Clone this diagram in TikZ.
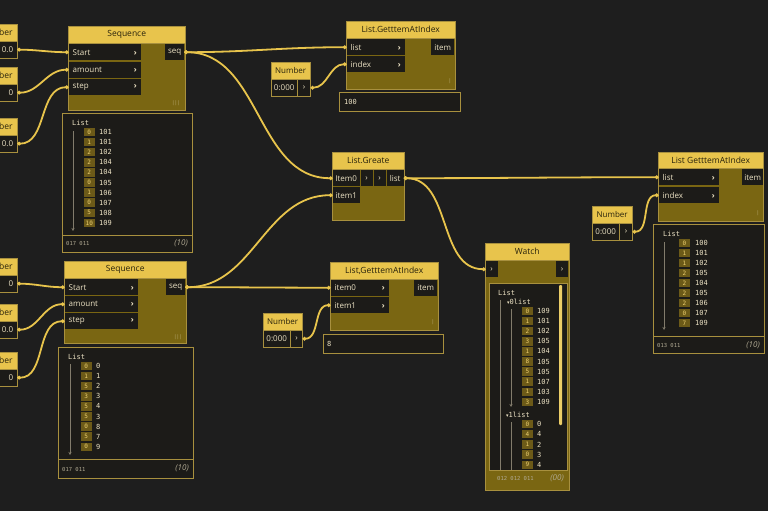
\documentclass[tikz,border=0pt]{standalone}
\usepackage{fontspec}
\setmainfont{Open Sans}
\newfontfamily\listfont{DejaVu Sans Mono}
\newfontfamily\symfont{DejaVu Sans}
\usetikzlibrary{positioning,arrows.meta}
\definecolor{canvas}{RGB}{30,30,30}
\definecolor{gold}{RGB}{232,196,76}
\definecolor{olive}{RGB}{122,102,18}
\definecolor{portbg}{RGB}{28,27,24}
\definecolor{rim}{RGB}{168,144,62}
\definecolor{cream}{RGB}{236,226,196}
\definecolor{ink}{RGB}{40,34,12}
\definecolor{idxbg}{RGB}{108,90,24}
\newcommand\hdrfont{\fontsize{8.5}{10}\selectfont}
\tikzset{
  hdr/.style={anchor=north west, fill=gold, draw=rim, text=ink, font=\hdrfont, inner sep=0pt, minimum height=17pt},
  body/.style={anchor=north west, fill=olive, draw=rim, inner sep=0pt},
  port/.style={anchor=north west, fill=portbg, text=cream, font=\footnotesize, inner sep=0pt, minimum height=16pt},
  inrow/.style={port, text width=#1, align=left},
  valbox/.style={anchor=north west, fill=portbg, draw=rim, text=cream, font=\footnotesize, inner sep=0pt, minimum height=17pt},
  listbox/.style={anchor=north west, fill=portbg, draw=rim, inner sep=0pt},
  idx/.style={anchor=east, fill=idxbg, text=gold!80!white, font=\listfont\fontsize{6}{6}\selectfont, inner sep=1pt, minimum width=11pt, minimum height=8.5pt},
  val/.style={anchor=west, text=cream, font=\listfont\scriptsize, inner sep=0pt},
  tree/.style={draw=cream!55!black, line width=0.6pt, -{Stealth[length=3pt,width=3pt]}},
  wire/.style={draw=gold, line width=1.8pt, {Circle[length=3.5pt]}-{Circle[length=3.5pt]}},
  lace/.style={text=cream!60!olive, font=\tiny, inner sep=0pt},
  foot/.style={anchor=west, text=cream!75!black, font=\listfont\fontsize{5.5}{6}\selectfont, inner sep=0pt},
  cnt/.style={anchor=east, text=cream!75!black, font=\itshape\footnotesize, inner sep=0pt},
}
\begin{document}
\begin{tikzpicture}[x=1pt,y=-1pt]
\useasboundingbox (0,0) rectangle (768,511);
\clip (0,0) rectangle (768,511);
\fill[canvas] (0,0) rectangle (768,511);

% number inputs on the left edge
\foreach \n/\y/\v in {n1/24/0.0, n2/67/0, n3/118/0.0, n4/258/0, n5/304/0.0, n6/352/0} {
  \node[hdr, minimum width=42pt] (\n) at (-25,\y) {Number};
  \node[valbox, minimum width=42pt, text width=34pt, align=right] (\n-val) at (-25,\y+17) {\v};
}

% first sequence
\node[body, minimum width=117pt, minimum height=67pt] (seqA-body) at (68,43) {};
\node[hdr, minimum width=117pt] (seqA) at (68,26) {Sequence};
\node[inrow=72pt] (seqA-start) at (68.5,44) {\hspace*{4pt}Start\hfill\textbf{›}\hspace*{4pt}};
\node[inrow=72pt] (seqA-amount) at (68.5,61.5) {\hspace*{4pt}amount\hfill\textbf{›}\hspace*{4pt}};
\node[inrow=72pt] (seqA-step) at (68.5,79) {\hspace*{4pt}step\hfill\textbf{›}\hspace*{4pt}};
\node[port, minimum width=19pt] (seqA-out) at (165,44) {seq};
\node[lace] (seqA-lace) at (176,103) {|||};
\node[listbox, minimum width=130pt, minimum height=139pt] (lA) at (62,113) {};
\draw[rim] (62,235) -- (192,235);
\node[val] (lA-title) at (72,123) {List};
\draw[tree] (73,131) -- (73,231);
\foreach \i/\v [count=\k from 0] in {0/101,1/101,2/102,2/104,2/104,0/105,1/106,0/107,5/108,10/109} {
  \node[idx] (lA-i\k) at (95,132+10.1*\k) {\i};
  \node[val] (lA-v\k) at (99,132+10.1*\k) {\v};
}
\node[foot] (lA-dims) at (66,243) {017 011};
\node[cnt] (lA-count) at (188,243) {(10)};

% second sequence
\node[body, minimum width=122pt, minimum height=65pt] (seqB-body) at (64,278) {};
\node[hdr, minimum width=122pt] (seqB) at (64,261) {Sequence};
\node[inrow=73pt] (seqB-start) at (64.5,279) {\hspace*{4pt}Start\hfill\textbf{›}\hspace*{4pt}};
\node[inrow=73pt] (seqB-amount) at (64.5,296) {\hspace*{4pt}amount\hfill\textbf{›}\hspace*{4pt}};
\node[inrow=73pt] (seqB-step) at (64.5,313) {\hspace*{4pt}step\hfill\textbf{›}\hspace*{4pt}};
\node[port, minimum width=19pt] (seqB-out) at (166,279) {seq};
\node[lace] (seqB-lace) at (178,337) {|||};
\node[listbox, minimum width=135pt, minimum height=131pt] (lB) at (58,347) {};
\draw[rim] (58,459) -- (193,459);
\node[val] (lB-title) at (68,357) {List};
\draw[tree] (70,364) -- (70,455);
\foreach \i/\v [count=\k from 0] in {0/0,1/1,5/2,3/3,5/4,5/3,0/8,5/7,0/9} {
  \node[idx] (lB-i\k) at (92,366+10.1*\k) {\i};
  \node[val] (lB-v\k) at (96,366+10.1*\k) {\v};
}
\node[foot] (lB-dims) at (62,469) {017 011};
\node[cnt] (lB-count) at (189,468) {(10)};

% top get item
\node[body, minimum width=109pt, minimum height=51pt] (gA-body) at (346,38) {};
\node[hdr, minimum width=109pt] (gA) at (346,21) {List.GetttemAtIndex};
\node[inrow=58pt] (gA-list) at (346.5,39) {\hspace*{4pt}list\hfill\textbf{›}\hspace*{4pt}};
\node[inrow=58pt] (gA-index) at (346.5,56) {\hspace*{4pt}index\hfill\textbf{›}\hspace*{4pt}};
\node[port, minimum width=23pt] (gA-out) at (431,39) {item};
\node[lace] (gA-lace) at (450,81) {|};
\node[listbox, minimum width=121pt, minimum height=19pt, text=cream, font=\listfont\scriptsize, text width=111pt, align=left] (gA-res) at (339,92) {100};
\node[hdr, minimum width=39pt, font=\footnotesize] (numA) at (271,62) {Number};
\node[valbox, minimum width=26pt] (numA-val) at (271,79) {0:000};
\node[valbox, minimum width=13pt, right=0pt of numA-val] (numA-out) {›};

% list create
\node[body, minimum width=72pt, minimum height=51pt] (cA-body) at (332,169) {};
\node[hdr, minimum width=72pt] (cA) at (332,152) {List.Greate};
\node[port, minimum width=27pt] (cA-item0) at (332.5,170) {Item0};
\node[port, minimum width=12pt] (cA-arrA) at (360.5,170) {›};
\node[port, minimum width=12pt] (cA-arrB) at (373.5,170) {›};
\node[port, minimum width=17pt] (cA-list) at (386.5,170) {list};
\node[port, minimum width=27pt] (cA-item1) at (332.5,187) {item1};

% right get item
\node[body, minimum width=105pt, minimum height=53pt] (gB-body) at (658,168) {};
\node[hdr, minimum width=105pt, minimum height=16pt] (gB) at (658,152) {List GetttemAtIndex};
\node[inrow=60pt] (gB-list) at (658.5,169) {\hspace*{4pt}list\hfill\textbf{›}\hspace*{4pt}};
\node[inrow=60pt] (gB-index) at (658.5,187) {\hspace*{4pt}index\hfill\textbf{›}\hspace*{4pt}};
\node[port, minimum width=21pt] (gB-out) at (742,169) {item};
\node[lace] (gB-lace) at (758,213) {|};
\node[hdr, minimum width=40pt, font=\footnotesize] (numB) at (592,206) {Number};
\node[valbox, minimum width=27pt] (numB-val) at (592,223) {0:000};
\node[valbox, minimum width=13pt, right=0pt of numB-val] (numB-out) {›};
\node[listbox, minimum width=111pt, minimum height=129pt] (lC) at (653,224) {};
\draw[rim] (653,336) -- (764,336);
\node[val] (lC-title) at (663,234) {List};
\draw[tree] (664,242) -- (664,330);
\foreach \i/\v [count=\k from 0] in {0/100,1/101,1/102,2/105,2/104,2/105,2/106,0/107,7/109} {
  \node[idx] (lC-i\k) at (690,243+10*\k) {\i};
  \node[val] (lC-v\k) at (695,243+10*\k) {\v};
}
\node[foot] (lC-dims) at (657,345) {013 011};
\node[cnt] (lC-count) at (760,345) {(10)};

% bottom get item
\node[body, minimum width=108pt, minimum height=51pt] (gC-body) at (330,279) {};
\node[hdr, minimum width=108pt] (gC) at (330,262) {List,GetttemAtIndex};
\node[inrow=58pt] (gC-item0) at (330.5,279.5) {\hspace*{4pt}item0\hfill\textbf{›}\hspace*{4pt}};
\node[inrow=58pt] (gC-item1) at (330.5,297) {\hspace*{4pt}item1\hfill\textbf{›}\hspace*{4pt}};
\node[port, minimum width=23pt] (gC-out) at (414,279.5) {item};
\node[lace] (gC-lace) at (433,322) {|};
\node[listbox, minimum width=120pt, minimum height=19pt, text=cream, font=\listfont\scriptsize, text width=112pt, align=left] (gC-res) at (323,334) {8};
\node[hdr, minimum width=39pt, font=\footnotesize] (numC) at (263,313) {Number};
\node[valbox, minimum width=27pt] (numC-val) at (263,330) {0:000};
\node[valbox, minimum width=12pt, right=0pt of numC-val] (numC-out) {›};

% watch
\node[body, minimum width=84pt, minimum height=230pt] (wA-body) at (485,260) {};
\node[hdr, minimum width=84pt] (wA) at (485,243) {Watch};
\node[port, minimum width=12pt] (wA-in) at (485.5,261) {›};
\node[port, minimum width=12pt] (wA-out) at (556,261) {›};
\node[listbox, minimum width=78pt, minimum height=187pt] (wA-list) at (489,283) {};
\fill[gold!85!white, rounded corners=1pt] (559,285) rectangle (562,425);
\node[val] (wA-title) at (498,293) {List};
\draw[tree, -] (500,300) -- (500,470);
\node[val] (wA-sub0) at (507,302) {{\symfont\tiny ▾}0list};
\draw[tree] (511,309) -- (511,407);
\foreach \i/\v [count=\k from 0] in {0/109,1/101,2/102,3/105,1/104,8/105,5/105,1/107,1/103,3/109} {
  \node[idx] (wA-i\k) at (533,311+10.1*\k) {\i};
  \node[val] (wA-v\k) at (537,311+10.1*\k) {\v};
}
\node[val] (wA-sub1) at (506,415) {{\symfont\tiny ▾}1list};
\draw[tree, -] (511,422) -- (511,470);
\foreach \i/\v [count=\k from 0] in {0/0,4/4,1/2,0/3,9/4} {
  \node[idx] (wA-j\k) at (533,424+10.2*\k) {\i};
  \node[val] (wA-w\k) at (537,424+10.2*\k) {\v};
}
\node[foot] (wA-dims) at (497,478) {012 012 011};
\node[cnt] (wA-count) at (564,478) {(00)};

% wires
\draw[wire] (n1-val.east) to[out=0,in=180] (seqA-start.west);
\draw[wire] (n2-val.east) to[out=0,in=180] (seqA-amount.west);
\draw[wire] (n3-val.east) to[out=0,in=180] (seqA-step.west);
\draw[wire] (n4-val.east) to[out=0,in=180] (seqB-start.west);
\draw[wire] (n5-val.east) to[out=0,in=180] (seqB-amount.west);
\draw[wire] (n6-val.east) to[out=0,in=180] (seqB-step.west);
\draw[wire] (seqA-out.east) to[out=0,in=180] (gA-list.west);
\draw[wire] (seqA-out.east) to[out=0,in=180] (cA-item0.west);
\draw[wire] (seqB-out.east) to[out=0,in=180] (cA-item1.west);
\draw[wire] (seqB-out.east) to[out=0,in=180] (gC-item0.west);
\draw[wire] (numA-out.east) to[out=0,in=180] (gA-index.west);
\draw[wire] (numB-out.east) to[out=0,in=180] (gB-index.west);
\draw[wire] (numC-out.east) to[out=0,in=180] (gC-item1.west);
\draw[wire] (cA-list.east) to[out=0,in=180] (gB-list.west);
\draw[wire] (cA-list.east) to[out=0,in=180] (wA-in.west);
\end{tikzpicture}
\end{document}
